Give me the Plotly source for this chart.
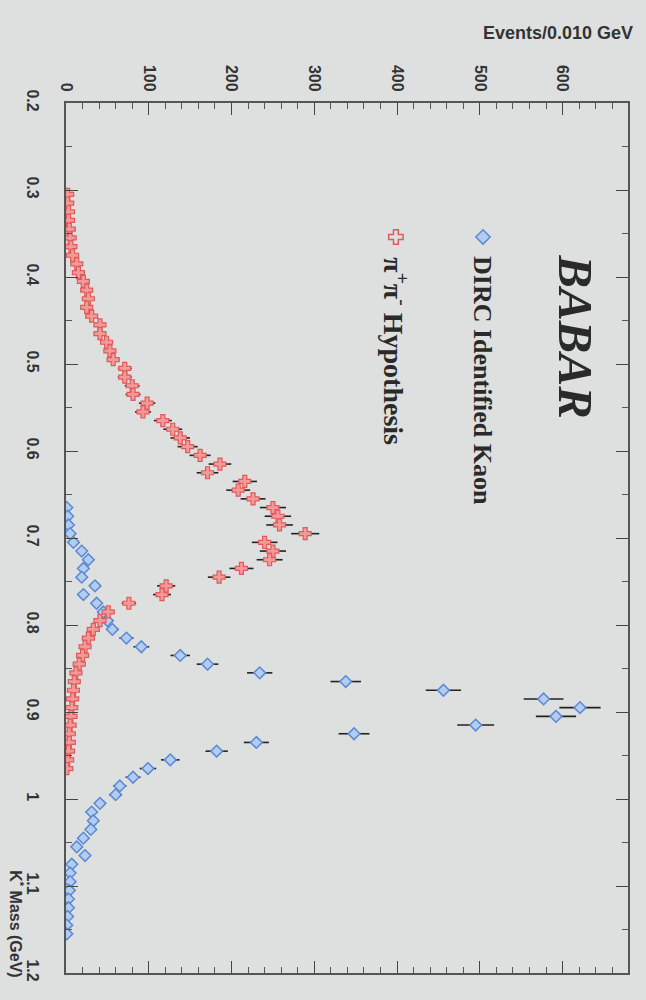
import numpy as np
import plotly.graph_objects as go

# ---------------- data ----------------
red_mass = [0.305, 0.315, 0.325, 0.335, 0.345, 0.355, 0.365, 0.375, 0.385, 0.395,
            0.405, 0.415, 0.425, 0.435, 0.445, 0.455, 0.465, 0.475, 0.485, 0.495,
            0.505, 0.515, 0.525, 0.535, 0.545, 0.555, 0.565, 0.575, 0.585, 0.595,
            0.605, 0.615, 0.625, 0.635, 0.645, 0.655, 0.665, 0.675, 0.685, 0.695,
            0.705, 0.715, 0.725, 0.735, 0.745, 0.755, 0.765, 0.775, 0.785, 0.795,
            0.805, 0.815, 0.825, 0.835, 0.845, 0.855, 0.865, 0.875, 0.885, 0.895,
            0.905, 0.915, 0.925, 0.935, 0.945, 0.955, 0.965]
red_events = [2, 2, 3, 3, 4, 5, 6, 8, 13, 15,
              21, 25, 27, 25, 31, 41, 41, 49, 53, 57,
              71, 71, 80, 81, 98, 93, 117, 129, 138, 147,
              162, 186, 171, 216, 208, 226, 250, 256, 258, 289,
              240, 250, 246, 212, 185, 121, 116, 76, 51, 41,
              33, 27, 23, 20, 16, 12, 10, 9, 8, 7,
              6, 5, 4, 4, 3, 2, 1]

blue_mass = [0.665, 0.675, 0.685, 0.695, 0.705, 0.715, 0.725, 0.735, 0.745, 0.755,
             0.765, 0.775, 0.785, 0.795, 0.805, 0.815, 0.825, 0.835, 0.845, 0.855,
             0.865, 0.875, 0.885, 0.895, 0.905, 0.915, 0.925, 0.935, 0.945, 0.955,
             0.965, 0.975, 0.985, 0.995, 1.005, 1.015, 1.025, 1.035, 1.045, 1.055,
             1.065, 1.075, 1.085, 1.095, 1.105, 1.115, 1.125, 1.135, 1.145, 1.155]
blue_events = [1, 2, 3, 5, 9, 19, 27, 21, 19, 35,
               21, 37, 45, 50, 56, 73, 91, 138, 171, 234,
               338, 456, 577, 621, 592, 495, 348, 230, 182, 126,
               99, 81, 65, 60, 41, 31, 33, 30, 21, 13,
               23, 7, 5, 5, 4, 3, 3, 2, 1, 1]

event_ticks = [0, 100, 200, 300, 400, 500, 600]
mass_ticks = [0.2, 0.3, 0.4, 0.5, 0.6, 0.7, 0.8, 0.9, 1.0, 1.1, 1.2]
mass_tick_text = ["0.2", "0.3", "0.4", "0.5", "0.6", "0.7", "0.8", "0.9", "1", "1.1", "1.2"]

series_names = ["DIRC Identified Kaon", "\u03c0<sup>+</sup>\u03c0<sup>-</sup> Hypothesis"]

# ---------------- style ----------------
BG = "#dde0df"
BLUE_LINE = "#5a8ad6"
BLUE_FILL = "#b4cdee"
RED_LINE = "#e05a5a"
RED_FILL = "#f29a9a"
TXT = "#333333"

fig = go.Figure()

fig.add_trace(go.Scatter(
    x=blue_events, y=blue_mass, mode="markers", name=series_names[0],
    marker=dict(symbol="diamond", size=9, color=BLUE_FILL,
                line=dict(color=BLUE_LINE, width=1.5)),
    error_x=dict(type="data", array=list(np.sqrt(blue_events)), color="#222222",
                 thickness=1.6, width=0),
    showlegend=False,
))

fig.add_trace(go.Scatter(
    x=red_events, y=red_mass, mode="markers", name=series_names[1],
    marker=dict(symbol="cross", size=10, color=RED_FILL,
                line=dict(color=RED_LINE, width=1.2)),
    error_x=dict(type="data", array=list(np.sqrt(red_events)), color="#222222",
                 thickness=1.6, width=0),
    showlegend=False,
))

# legend keys (layout decoration on an overlay paper-like axis)
fig.add_trace(go.Scatter(
    x=[0.742], y=[0.846], xaxis="x2", yaxis="y2", mode="markers",
    marker=dict(symbol="diamond", size=11, color=BLUE_FILL,
                line=dict(color=BLUE_LINE, width=1.5)),
    showlegend=False, hoverinfo="skip"))
fig.add_trace(go.Scatter(
    x=[0.587], y=[0.846], xaxis="x2", yaxis="y2", mode="markers",
    marker=dict(symbol="cross-open", size=12, color=RED_LINE,
                line=dict(color=RED_LINE, width=1.5)),
    showlegend=False, hoverinfo="skip"))

tickfont = dict(family="Liberation Sans, Arial, sans-serif", size=16, color=TXT, weight="bold")

fig.update_layout(
    width=646, height=1000,
    margin=dict(l=66, r=18, t=103, b=27),
    paper_bgcolor=BG, plot_bgcolor=BG,
    showlegend=False,
    xaxis=dict(
        range=[0, 679], side="top", tickangle=90,
        tickvals=event_ticks, ticktext=[str(v) for v in event_ticks],
        ticks="inside", ticklen=12, tickwidth=1.2, tickcolor="#444",
        minor=dict(dtick=20, ticks="inside", ticklen=6, tickcolor="#555", tickwidth=1),
        showline=True, linecolor="#555", linewidth=1.5, mirror="ticks",
        showgrid=False, zeroline=False, tickfont=tickfont, ticklabelstandoff=4,
    ),
    yaxis=dict(
        range=[1.2, 0.2], tickangle=90,
        tickvals=mass_ticks, ticktext=mass_tick_text,
        ticks="inside", ticklen=12, tickwidth=1.2, tickcolor="#444",
        minor=dict(dtick=0.05, ticks="inside", ticklen=6, tickcolor="#555", tickwidth=1),
        showline=True, linecolor="#555", linewidth=1.5, mirror="ticks",
        showgrid=False, zeroline=False, tickfont=tickfont, ticklabelstandoff=18,
    ),
    xaxis2=dict(range=[0, 1], overlaying="x", visible=False, fixedrange=True),
    yaxis2=dict(range=[0, 1], overlaying="y", visible=False, fixedrange=True),
)

annotations = [
    dict(text="Events/0.010 GeV", x=1.0125, y=1.080, xref="paper", yref="paper",
         xanchor="right", yanchor="middle", showarrow=False,
         font=dict(family="Liberation Sans, Arial, sans-serif", size=18, color=TXT, weight="bold")),
    dict(text="K<sup>*</sup> Mass (GeV)", x=-0.088, y=0.121, xref="paper", yref="paper",
         xanchor="center", yanchor="top", textangle=90, showarrow=False,
         font=dict(family="Liberation Sans, Arial, sans-serif", size=16, color=TXT, weight="bold")),
    dict(text="<b><i>BABAR</i></b>", x=0.906, y=0.828, xref="paper", yref="paper",
         xanchor="center", yanchor="top", textangle=90, showarrow=False,
         font=dict(family="Liberation Serif, Times New Roman, serif", size=49, color="#2a2a2a")),
    dict(text="<b>" + series_names[0] + "</b>", x=0.742, y=0.827, xref="paper", yref="paper",
         xanchor="center", yanchor="top", textangle=90, showarrow=False,
         font=dict(family="Liberation Serif, Times New Roman, serif", size=26, color="#2a2a2a")),
    dict(text="<b>" + series_names[1] + "</b>", x=0.587, y=0.825, xref="paper", yref="paper",
         xanchor="center", yanchor="top", textangle=90, showarrow=False,
         font=dict(family="Liberation Serif, Times New Roman, serif", size=28, color="#2a2a2a")),
]
fig.update_layout(annotations=annotations)

fig.write_html("out.html")
